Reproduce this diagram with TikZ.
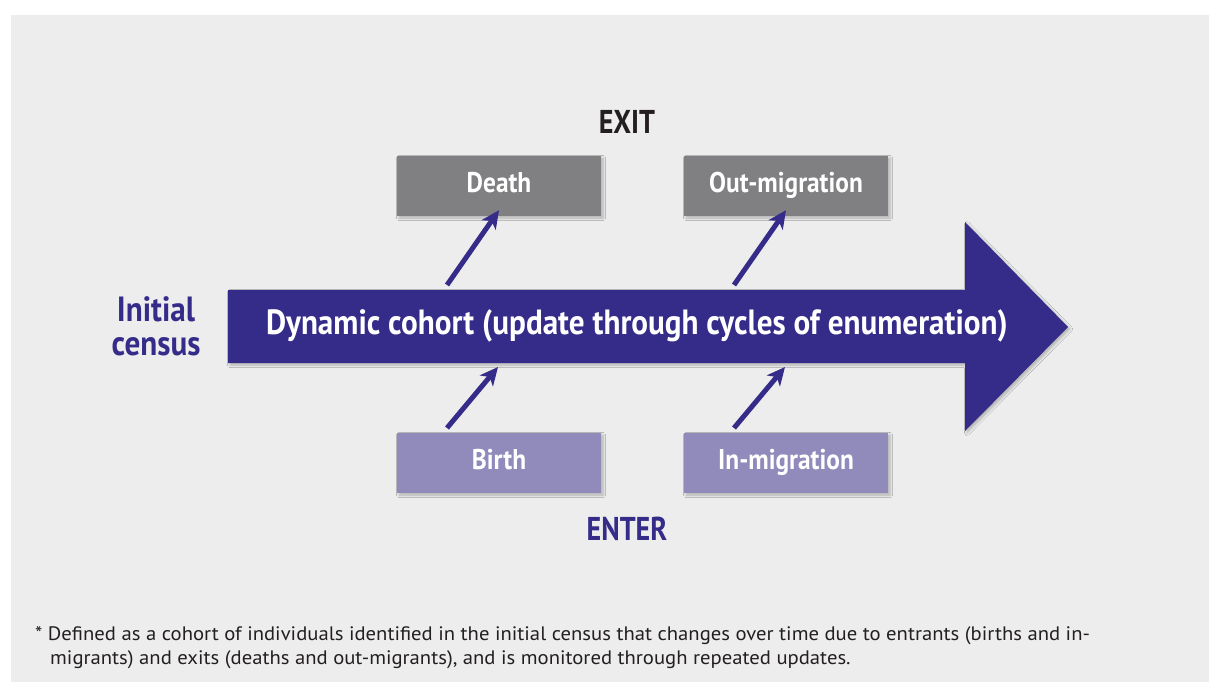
\documentclass[tikz,border=0pt]{standalone}
\usepackage{fontspec}
\setmainfont{PT Sans}[FakeStretch=1.06]
\newfontfamily\condbf[FakeStretch=0.89]{PT Sans Bold}
\newfontfamily\headbf[FakeStretch=0.85]{PT Sans Bold}
\usetikzlibrary{arrows.meta,shadows.blur}
\definecolor{bgc}{HTML}{EDEDED}
\definecolor{navy}{HTML}{352C8A}
\definecolor{exitgray}{HTML}{808083}
\definecolor{entpurple}{HTML}{918BBC}
\definecolor{ink}{HTML}{231F20}
\tikzset{
  shade/.style={blur shadow={shadow xshift=2pt,shadow yshift=-2pt,shadow blur steps=6,shadow opacity=25,shadow blur radius=2.5pt}},
  flowbox/.style={shade,minimum width=204pt,minimum height=60pt,inner sep=0pt,text=white,text height=20pt,text depth=8pt,font=\condbf\fontsize{28.5}{30}\selectfont},
  exitbox/.style={flowbox,fill=exitgray},
  enterbox/.style={flowbox,fill=entpurple},
  conn/.style={navy,line width=5pt,-{Stealth[length=18pt,width=17pt,inset=5pt]}},
  heading/.style={inner sep=0pt,font=\condbf\fontsize{35}{34}\selectfont},
  sidehead/.style={inner sep=0pt,anchor=base,font=\headbf\fontsize{33}{33}\selectfont},
  foot/.style={anchor=base west,inner sep=0pt,text=ink,font=\fontsize{19.5}{22}\selectfont}
}
\begin{document}
\begin{tikzpicture}[x=1pt,y=-1pt]
\useasboundingbox (0,0) rectangle (1209,682);
\fill[white] (0,0) rectangle (1209,682);
\fill[bgc] (11,15) rectangle (1209,682);
% big arrow
\fill[navy,shade] (228,290) -- (965,290) -- (965,222) -- (1068,327) -- (965,431) -- (965,363) -- (228,363) -- cycle;
\node[text=white,heading,anchor=base] (cohort) at (637,334) {Dynamic cohort (update through cycles of enumeration)};
\node[text=navy,heading,align=center] (initial) at (156,326) {Initial\\census};
% boxes
\node[exitbox] (death) at (499,186) {Death};
\node[exitbox] (outmig) at (786,186) {Out-migration};
\node[enterbox] (birth) at (499,463) {Birth};
\node[enterbox] (inmig) at (786,463) {In-migration};
\node[text=ink,sidehead] (exit) at (627,133) {EXIT};
\node[text=navy,sidehead] (enter) at (627,540) {ENTER};
% connectors
\coordinate (d0) at (447,285);
\coordinate (o0) at (734,285);
\coordinate (b0) at (447,428);
\coordinate (i0) at (734,428);
\coordinate (b1) at (498,367);
\coordinate (i1) at (785,367);
\draw[conn] (d0) -- ([yshift=6pt]death.south);
\draw[conn] (o0) -- ([yshift=6pt]outmig.south);
\draw[conn] (b0) -- (b1);
\draw[conn] (i0) -- (i1);
% footnote
\node[foot] (fn1) at (35,640) {* Defined as a cohort of individuals identified in the initial census that changes over time due to entrants (births and in-};
\node[foot] (fn2) at (50,664) {migrants) and exits (deaths and out-migrants), and is monitored through repeated updates.};
\end{tikzpicture}
\end{document}
